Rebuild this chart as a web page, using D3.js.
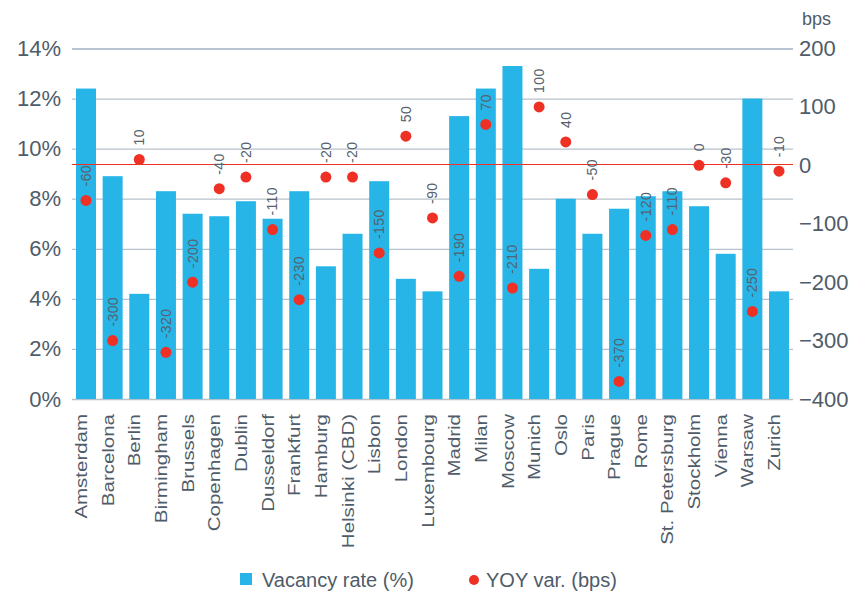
<!DOCTYPE html>
<html>
<head>
<meta charset="utf-8">
<script src="https://cdn.jsdelivr.net/npm/d3@7"></script>
<style>
  body { margin: 0; background: #fff; }
  text { font-family: "Liberation Sans", Arial, sans-serif; }
</style>
</head>
<body>
<div id="vis"></div>
<script>
// cities, vacancy rate (%) and yoy change (bps)
const cities = ["Amsterdam", "Barcelona", "Berlin", "Birmingham", "Brussels", "Copenhagen", "Dublin",
  "Dusseldorf", "Frankfurt", "Hamburg", "Helsinki (CBD)", "Lisbon", "London", "Luxembourg", "Madrid",
  "Milan", "Moscow", "Munich", "Oslo", "Paris", "Prague", "Rome", "St. Petersburg", "Stockholm",
  "Vienna", "Warsaw", "Zurich"];
const vacancy = [12.4, 8.9, 4.2, 8.3, 7.4, 7.3, 7.9, 7.2, 8.3, 5.3, 6.6, 8.7, 4.8, 4.3, 11.3,
  12.4, 13.3, 5.2, 8.0, 6.6, 7.6, 8.1, 8.3, 7.7, 5.8, 12.0, 4.3];
const yoy = [-60, -300, 10, -320, -200, -40, -20, -110, -230, -20, -20, -150, 50, -90, -190,
  70, -210, 100, 40, -50, -370, -120, -110, 0, -30, -250, -10];
const leftTicks = [0, 2, 4, 6, 8, 10, 12, 14];
const rightTicks = [-400, -300, -200, -100, 0, 100, 200];
const legendLabels = ["Vacancy rate (%)", "YOY var. (bps)"];

let width = 862, height = 592;
let pLeft = 72, pRight = 793, pTop = 48.5, pBottom = 399;
let textCol = "#4f5c69";

document.addEventListener("DOMContentLoaded", function(){
  drawChart();
});

function drawChart(){
  let svg = d3.select("#vis").append("svg")
    .attr("width", width)
    .attr("height", height);

  let x = d3.scaleBand()
    .domain(cities)
    .range([pLeft, pRight])
    .paddingInner(0.25)
    .paddingOuter(0.15);
  let y = d3.scaleLinear().domain([0, 14]).range([pBottom, pTop]);
  let y2 = d3.scaleLinear().domain([-400, 200]).range([pBottom, pTop]);

  // gridlines (left axis)
  let gridAxis = d3.axisLeft(y).tickValues(leftTicks).tickSize(-(pRight - pLeft)).tickFormat(function(d){ return d + "%"; });
  let gl = svg.append("g")
    .attr("transform", "translate(" + pLeft + ",0)")
    .call(gridAxis);
  gl.select(".domain").remove();
  gl.selectAll(".tick line")
    .attr("stroke", function(d){ return d == 14 ? "#a3b2c4" : "#b8c1cb"; })
    .attr("stroke-width", 1.3);
  gl.selectAll(".tick text")
    .attr("x", -11)
    .attr("fill", textCol)
    .style("font-size", "22px");

  // right axis labels
  let ra = svg.append("g")
    .attr("transform", "translate(" + pRight + ",0)")
    .call(d3.axisRight(y2).tickValues(rightTicks).tickSize(0));
  ra.select(".domain").remove();
  ra.selectAll(".tick text")
    .attr("x", 6)
    .attr("fill", textCol)
    .style("font-size", "22px");

  svg.append("text")
    .attr("x", 802)
    .attr("y", 25)
    .attr("fill", textCol)
    .style("font-size", "18px")
    .text("bps");

  // bars
  svg.selectAll("rect.bar")
    .data(cities)
    .enter().append("rect")
    .attr("class", "bar")
    .attr("x", function(d){ return x(d); })
    .attr("y", function(d, i){ return y(vacancy[i]); })
    .attr("width", x.bandwidth())
    .attr("height", function(d, i){ return pBottom - y(vacancy[i]); })
    .attr("fill", "#27b5e8");

  // zero line for bps, snapped to a pixel row so it stays bright
  let zeroY = Math.floor(y2(0)) - 0.5;
  svg.append("line")
    .attr("x1", pLeft)
    .attr("x2", pRight)
    .attr("y1", zeroY)
    .attr("y2", zeroY)
    .attr("stroke", "#ee3124")
    .attr("stroke-width", 1.2);

  // dots
  svg.selectAll("circle.dot")
    .data(cities)
    .enter().append("circle")
    .attr("class", "dot")
    .attr("cx", function(d){ return x(d) + x.bandwidth() / 2; })
    .attr("cy", function(d, i){ return y2(yoy[i]); })
    .attr("r", 5.5)
    .attr("fill", "#ee3124");

  // value labels
  svg.selectAll("text.val")
    .data(cities)
    .enter().append("text")
    .attr("class", "val")
    .attr("transform", function(d, i){
      return "translate(" + (x(d) + x.bandwidth() / 2) + "," + (y2(yoy[i]) - 14) + ")rotate(-90)";
    })
    .attr("dy", "0.35em")
    .attr("fill", "#56626e")
    .style("font-size", "14px")
    .style("letter-spacing", "0.4px")
    .text(function(d, i){ return yoy[i]; });

  // category labels
  svg.selectAll("text.cat")
    .data(cities)
    .enter().append("text")
    .attr("class", "cat")
    .attr("transform", function(d){
      return "translate(" + (x(d) + x.bandwidth() / 2 - 4.5) + ",414)rotate(-90)scale(1.28,1)";
    })
    .attr("dy", "0.35em")
    .attr("text-anchor", "end")
    .attr("fill", textCol)
    .style("font-size", "16px")
    .text(function(d){ return d; });

  // legend
  let lg = svg.append("g");
  lg.append("rect")
    .attr("x", 240).attr("y", 573)
    .attr("width", 12).attr("height", 12)
    .attr("fill", "#27b5e8");
  lg.append("text")
    .attr("x", 262).attr("y", 587)
    .attr("fill", textCol)
    .style("font-size", "20px")
    .text(legendLabels[0]);
  lg.append("circle")
    .attr("cx", 474).attr("cy", 580)
    .attr("r", 5)
    .attr("fill", "#ee3124");
  lg.append("text")
    .attr("x", 486).attr("y", 587)
    .attr("fill", textCol)
    .style("font-size", "20px")
    .text(legendLabels[1]);
}
</script>
</body>
</html>
